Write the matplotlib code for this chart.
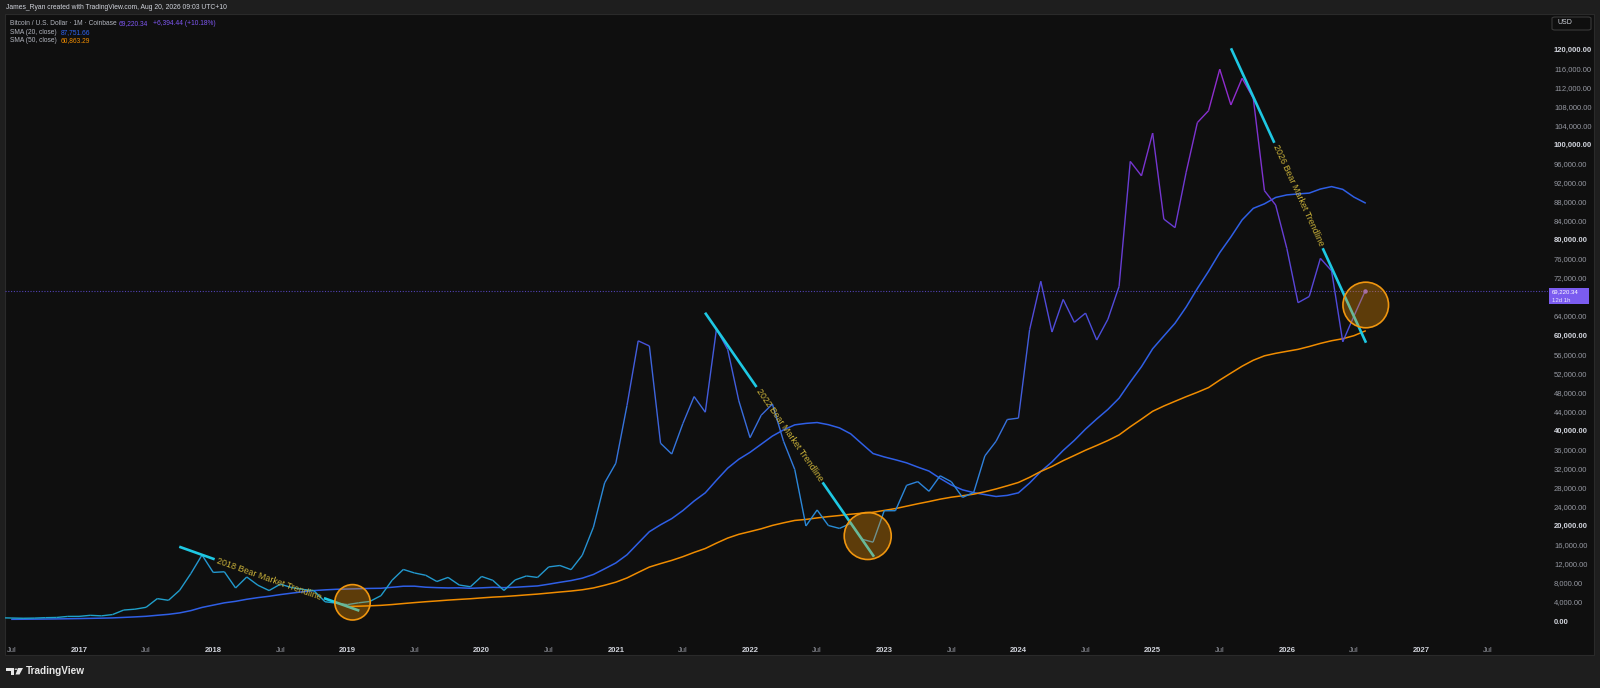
import numpy as np
import pandas as pd
import matplotlib.pyplot as plt
import matplotlib.transforms as mtransforms
from matplotlib.collections import LineCollection
from matplotlib.colors import LinearSegmentedColormap, Normalize
from matplotlib.patches import Ellipse, Rectangle, FancyBboxPatch, Polygon, Circle

plt.rcParams['font.family'] = ['Liberation Sans', 'DejaVu Sans']

# ---- data: BTC/USD monthly close (Coinbase), Jun 2016 .. Aug 2026
close = [673, 624, 575, 609, 700, 742, 963,
         970, 1190, 1080, 1350, 2300, 2480, 2875, 4700, 4340, 6450, 9950, 13850,
         10200, 10330, 6930, 9240, 7500, 6390, 7730, 7030, 6630, 6370, 4040, 3740,
         3440, 3820, 4100, 5320, 8570, 10820, 10080, 9600, 8290, 9150, 7550, 7190,
         9350, 8540, 6410, 8620, 9450, 9140, 11350, 11650, 10780, 13800, 19700, 28990,
         33110, 45240, 58800, 57720, 37300, 35040, 41460, 47100, 43820, 61300, 57000, 46200,
         38480, 43190, 45540, 37700, 31800, 19940, 23300, 20050, 19430, 20490, 17170, 16540,
         23130, 23150, 28470, 29250, 27220, 30480, 29230, 25940, 26970, 34660, 37720, 42280,
         42580, 61130, 71290, 60640, 67490, 62680, 64620, 58970, 63330, 70220, 96450, 93430,
         102400, 84350, 82550, 94200, 104600, 107100, 115800, 108300, 113900, 109700, 90300, 87300,
         78200, 66800, 68100, 76100, 73500, 58600, 64000, 69220.34]

# SMA(20, close), Jul 2016 .. Aug 2026
sma20 = [357, 369, 389, 411, 436, 473,
         510, 556, 596, 652, 755, 863, 988, 1202, 1400, 1701, 2178, 2848,
         3331, 3814, 4129, 4562, 4907, 5192, 5541, 5844, 6127, 6386, 6534, 6654,
         6711, 6778, 6839, 6870, 7082, 7300, 7307, 7094, 6999, 6940, 6971, 6868,
         6961, 7068, 7002, 7082, 7223, 7361, 7727, 8122, 8489, 8988, 9768, 10952,
         12179, 13900, 16336, 18742, 20192, 21487, 23182, 25178, 26901, 29539, 32069, 33948,
         35399, 37102, 38811, 40114, 41165, 41472, 41652, 41205, 40521, 39283, 37202, 35143,
         34434, 33840, 33190, 32298, 31468, 29927, 28538, 27525, 26950, 26523, 26132, 26361,
         26900, 28960, 31359, 33389, 35792, 37901, 40274, 42395, 44405, 46759, 50158, 53367,
         57126, 59819, 62485, 65898, 69780, 73402, 77306, 80607, 84173, 86601, 87552, 88885,
         89420, 89626, 89800, 90657, 91165, 90584, 88962, 87751.66]

# SMA(50, close), Jan 2019 .. Aug 2026
sma50 = [3037, 3107, 3184, 3286, 3452, 3664, 3861, 4047, 4208, 4386, 4532, 4670,
         4849, 5011, 5132, 5296, 5477, 5650, 5867, 6086, 6289, 6554, 6936, 7502,
         8149, 9035, 10191, 11322, 12046, 12720, 13503, 14396, 15214, 16346, 17400, 18195,
         18765, 19352, 20059, 20606, 21104, 21318, 21634, 21907, 22141, 22410, 22621, 22824,
         23206, 23594, 24095, 24603, 25066, 25569, 25982, 26285, 26622, 27124, 27712, 28375,
         29075, 30154, 31393, 32435, 33657, 34738, 35841, 36838, 37877, 39049, 40762, 42355,
         44009, 45116, 46105, 47084, 48000, 48988, 50558, 52023, 53472, 54724, 55653, 56173,
         56597, 57009, 57602, 58260, 58819, 59237, 59881, 60863.29]

last_price = 69220.34
change = 6394.44
change_pct = 10.18

# drawings on the chart: (label, x0, price0, x1, price1) in decimal years
trendlines = [("2018 Bear Market Trendline", 2017.747, 15590, 2019.089, 2160),
              ("2022 Bear Market Trendline", 2021.665, 64700, 2022.924, 13490),
              ("2026 Bear Market Trendline", 2025.584, 120190, 2026.590, 58400)]
# circles: (x, price, radius in px)
circles = [(2019.038, 3925, 17.7), (2022.877, 17840, 23.5), (2026.588, 66320, 22.8)]

def dec_year(start, n):
    p = pd.period_range(start, periods=n, freq='M')
    return np.asarray(p.year + (p.month - 1) / 12.0, dtype=float)

x_close = dec_year('2016-06', len(close))
x_sma20 = dec_year('2016-07', len(sma20))
x_sma50 = dec_year('2019-01', len(sma50))

W, H = 1600, 688
BG = '#1e1e1e'
PANE = '#0f0f0f'

def fx(px):
    return px / W

def fy(py):
    return 1 - py / H

fig = plt.figure(figsize=(W / 100, H / 100), dpi=100, facecolor=BG)

# chart pane background
fig.patches.append(Rectangle((fx(5), fy(655)), (1594 - 5) / W, (655 - 14) / H,
                             transform=fig.transFigure, facecolor=PANE,
                             edgecolor='#2a2a2a', lw=0.8, zorder=-10))

ax = fig.add_axes([fx(5), fy(641), (1548 - 5) / W, (641 - 14) / H])
ax.set_zorder(1)
ax.set_facecolor('none')
for s in ax.spines.values():
    s.set_visible(False)

ax.set_xlim(2016.4486, 2027.946)
ax.set_ylim(-4197, 127387)

# price line, colour by value
cmap = LinearSegmentedColormap.from_list('tv', ['#1ea3c8', '#2d82dc', '#4a4fdc', '#7038d2', '#9b28cc'])
norm = Normalize(0, 120000)
pts = np.column_stack([x_close, close])
segs = np.stack([pts[:-1], pts[1:]], axis=1)
mid = (np.array(close[:-1]) + np.array(close[1:])) / 2
lc = LineCollection(segs, colors=cmap(norm(mid)), linewidths=1.0, zorder=4)
ax.add_collection(lc)
ax.plot(x_close[-1], close[-1], 'o', ms=2.2, color='#7b5cf6', zorder=5)

ax.plot(x_sma20, sma20, color='#2f5fe6', lw=1.1, zorder=3)
ax.plot(x_sma50, sma50, color='#f08c00', lw=1.1, zorder=3)

# last price dotted line
ax.axhline(last_price, color='#5142b4', lw=0.8, ls=(0, (1, 1.5)), zorder=1)

# trend lines with text in the middle
for label, x0, y0, x1, y1 in trendlines:
    p0 = ax.transData.transform((x0, y0))
    p1 = ax.transData.transform((x1, y1))
    d = p1 - p0
    L = np.hypot(d[0], d[1])
    g = 0.5 * 116 / L
    a, b = 0.5 - g, 0.5 + g
    ax.plot([x0, x0 + (x1 - x0) * a], [y0, y0 + (y1 - y0) * a], color='#1ec8e3',
            lw=1.9, solid_capstyle='butt', zorder=6)
    ax.plot([x0 + (x1 - x0) * b, x1], [y0 + (y1 - y0) * b, y1], color='#1ec8e3',
            lw=1.9, solid_capstyle='butt', zorder=6)
    ang = np.degrees(np.arctan2(d[1], d[0]))
    ax.text((x0 + x1) / 2, (y0 + y1) / 2, label, rotation=ang, rotation_mode='anchor',
            ha='center', va='center', color='#cdb43a', fontsize=6.4, zorder=7)

# orange circles
sx = 134.2  # px per year
sy = (641 - 14) / (127387 + 4197)  # px per dollar
for cx, cy, r in circles:
    ax.add_patch(Ellipse((cx, cy), 2 * r / sx, 2 * r / sy, facecolor=(1.0, 0.6, 0.0, 0.33),
                         edgecolor='#f0960f', lw=1.2, zorder=8))

# axes ticks
xt = np.arange(2016.5, 2027.6, 0.5)
ax.set_xticks(xt)
ax.set_xticklabels(['Jul' if v % 1 else str(int(v)) for v in xt])
for v, lab in zip(xt, ax.get_xticklabels()):
    if v % 1:
        lab.set_color('#9598a1')
    else:
        lab.set_color('#d1d4dc')
        lab.set_fontweight('bold')
ax.tick_params(axis='x', length=0, pad=4, labelsize=5.5)

# price scale; the label under the last-price tag is hidden, as on the reference
yt = np.arange(0, 120001, 4000)
ax.set_yticks(yt)
ax.set_yticklabels(['' if abs(v - last_price) < 2500 else f'{v:,.2f}' for v in yt])
ax.yaxis.tick_right()
for v, lab in zip(yt, ax.get_yticklabels()):
    if v % 20000 == 0:
        lab.set_color('#d1d4dc')
        lab.set_fontweight('bold')
    else:
        lab.set_color('#9598a1')
ax.tick_params(axis='y', length=0, pad=4.3, labelsize=5.5)

# last price label on scale
blend = mtransforms.blended_transform_factory(fig.transFigure, ax.transData)
ax.add_patch(Rectangle((fx(1549), 66440), 40 / W, 3500, transform=blend,
                       facecolor='#7b5cf0', edgecolor='none', clip_on=False, zorder=10))
ax.text(fx(1552), 69180, f'{last_price:,.2f}', transform=blend, ha='left', va='center',
        color='#ffffff', fontsize=4.3, clip_on=False, zorder=11)
ax.text(fx(1552), 67230, '12d 1h', transform=blend, ha='left', va='center',
        color='#e8e2ff', fontsize=4.3, clip_on=False, zorder=11)

# USD box
fig.patches.append(FancyBboxPatch((fx(1552), fy(30)), 39 / W, 13 / H,
                                  boxstyle='round,pad=0,rounding_size=0.002',
                                  transform=fig.transFigure, facecolor=PANE,
                                  edgecolor='#3a3a3a', lw=0.8, zorder=-5))
fig.text(fx(1557), fy(23), 'USD', ha='left', va='center', color='#d1d4dc', fontsize=5.0)

# header
fig.text(fx(6), fy(7.3), 'James_Ryan created with TradingView.com, Aug 20, 2026 09:03 UTC+10',
         ha='left', va='center', color='#d1d4dc', fontsize=4.9)

# legend
fig.text(fx(10), fy(23.3), 'Bitcoin / U.S. Dollar · 1M · Coinbase', ha='left', va='center',
         color='#b2b5be', fontsize=4.8)
fig.text(fx(119), fy(23.3), f'{last_price:,.2f}', ha='left', va='center', color='#7e57f2', fontsize=4.8)
fig.text(fx(153), fy(23.3), f'+{change:,.2f} (+{change_pct:.2f}%)', ha='left', va='center',
         color='#7e57f2', fontsize=4.8)
fig.text(fx(10), fy(32.3), 'SMA (20, close)', ha='left', va='center', color='#b2b5be', fontsize=4.8)
fig.text(fx(61), fy(32.3), f'{sma20[-1]:,.2f}', ha='left', va='center', color='#2f63f0', fontsize=4.8)
fig.text(fx(10), fy(40.7), 'SMA (50, close)', ha='left', va='center', color='#b2b5be', fontsize=4.8)
fig.text(fx(61), fy(40.7), f'{sma50[-1]:,.2f}', ha='left', va='center', color='#f08c00', fontsize=4.8)

# footer logo
logo = '#e6e6e6'
fig.patches.append(Rectangle((fx(6), fy(670.5)), 7.5 / W, 2.7 / H, transform=fig.transFigure,
                             facecolor=logo, edgecolor='none'))
fig.patches.append(Rectangle((fx(10.5), fy(674.5)), 3 / W, 6.5 / H, transform=fig.transFigure,
                             facecolor=logo, edgecolor='none'))
fig.patches.append(Circle((fx(16), fy(669.2)), 1.5 / W, transform=fig.transFigure,
                          facecolor=logo, edgecolor='none'))
fig.patches.append(Polygon([(fx(18), fy(668)), (fx(23), fy(668)), (fx(19.5), fy(674.5)),
                            (fx(15.5), fy(674.5))], closed=True, transform=fig.transFigure,
                           facecolor=logo, edgecolor='none'))
fig.text(fx(26), fy(671.5), 'TradingView', ha='left', va='center', color=logo,
         fontsize=7.2, fontweight='bold')

fig.savefig('out.png', dpi=100, facecolor=BG)
